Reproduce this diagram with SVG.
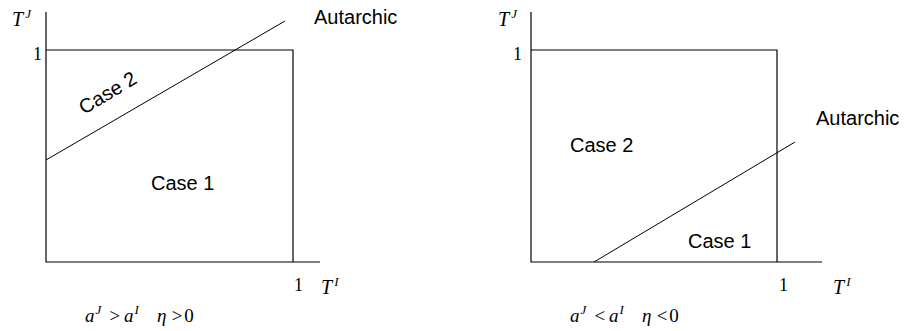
<svg xmlns="http://www.w3.org/2000/svg" width="913" height="331" viewBox="0 0 913 331">
<style>
.ax{stroke:#000;stroke-width:1.2;fill:none}
.ln{stroke:#000;stroke-width:1;fill:none}
.lab{font-family:"Liberation Sans",Arial,sans-serif;font-size:20px;fill:#000}
.m{font-family:"Liberation Serif","Times New Roman",serif;font-style:italic;font-size:20px;fill:#000}
.ms{font-family:"Liberation Serif","Times New Roman",serif;font-style:italic;font-size:13px;fill:#000}
.f{font-family:"Liberation Serif","Times New Roman",serif;font-style:italic;font-size:19px;fill:#000}
.n{font-family:"Liberation Serif","Times New Roman",serif;font-size:18px;fill:#000}
</style>
<rect width="913" height="331" fill="#fff"/>
<g id="left-panel">
  <g id="left-axes">
    <path class="ax" d="M46,12 V262 H320"/>
    <path class="ax" d="M46,50 H293 V262"/>
  </g>
  <g id="left-connectors">
    <line class="ln" x1="46" y1="160" x2="285" y2="21"/>
  </g>
  <text class="m" x="12" y="26">T<tspan class="ms" dx="2" dy="-8">J</tspan></text>
  <text class="n" x="33" y="60">1</text>
  <text class="n" x="294" y="291">1</text>
  <text class="m" x="321" y="294">T<tspan class="ms" dx="2" dy="-8">I</tspan></text>
  <text class="f" x="85" y="322">a<tspan class="ms" dx="1" dy="-8">J</tspan><tspan dx="7" dy="8">&gt;</tspan><tspan dx="3">a</tspan><tspan class="ms" dx="1" dy="-8">I</tspan><tspan dx="18" dy="8">η</tspan><tspan dx="4">&gt;</tspan><tspan dx="1" font-style="normal">0</tspan></text>
  <text class="lab" x="314" y="24">Autarchic</text>
  <text class="lab" transform="translate(84,115) rotate(-31)">Case 2</text>
  <text class="lab" x="151" y="190">Case 1</text>
</g>
<g id="right-panel">
  <g id="right-axes">
    <path class="ax" d="M531,12 V262 H822"/>
    <path class="ax" d="M531,50 H777 V262"/>
  </g>
  <g id="right-connectors">
    <line class="ln" x1="594" y1="262" x2="795" y2="142"/>
  </g>
  <text class="m" x="498" y="26">T<tspan class="ms" dx="2" dy="-8">J</tspan></text>
  <text class="n" x="513" y="60">1</text>
  <text class="n" x="779" y="291">1</text>
  <text class="m" x="833" y="294">T<tspan class="ms" dx="2" dy="-8">I</tspan></text>
  <text class="f" x="570" y="322">a<tspan class="ms" dx="1" dy="-8">J</tspan><tspan dx="7" dy="8">&lt;</tspan><tspan dx="3">a</tspan><tspan class="ms" dx="1" dy="-8">I</tspan><tspan dx="18" dy="8">η</tspan><tspan dx="4">&lt;</tspan><tspan dx="1" font-style="normal">0</tspan></text>
  <text class="lab" x="816" y="125">Autarchic</text>
  <text class="lab" x="570" y="152">Case 2</text>
  <text class="lab" x="688" y="248">Case 1</text>
</g>
</svg>
